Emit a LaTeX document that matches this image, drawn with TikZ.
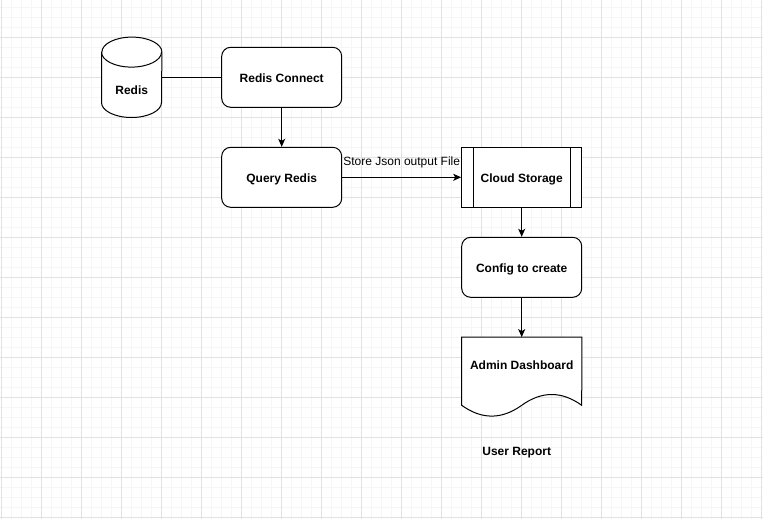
\documentclass[tikz,border=0pt]{standalone}
\usepackage{fontspec}
\setmainfont{Liberation Sans}
\usetikzlibrary{arrows.meta,calc}
\definecolor{gridminor}{HTML}{F6F6F6}
\definecolor{gridmajor}{HTML}{E2E2E2}
\tikzset{
  boxbase/.style={line width=1pt, minimum width=120pt, minimum height=60pt, inner sep=0pt,
    font=\bfseries\fontsize{12}{14}\selectfont, fill=white, text depth=0pt},
  rbox/.style={boxbase, draw, rounded corners=9pt},
  procbox/.style={boxbase, draw},
  ghost/.style={minimum width=60pt, minimum height=80pt, inner sep=0pt},
  docghost/.style={minimum width=120pt, minimum height=80pt, inner sep=0pt},
  shapeline/.style={line width=1pt, fill=white},
  lbl/.style={font=\bfseries\fontsize{12}{14}\selectfont, inner sep=0pt},
  elbl/.style={font=\fontsize{12}{14}\selectfont, inner sep=0pt},
  conn/.style={line width=1pt},
  arr/.style={line width=1pt, -{Stealth[length=8pt,width=7pt,inset=2pt]}},
}
\begin{document}
\begin{tikzpicture}[x=1pt,y=-1pt]
\useasboundingbox (0,0) rectangle (763,519);
\fill[white] (0,0) rectangle (763,519);
% grid
\foreach \k in {0,...,76} \draw[gridminor, line width=1pt] (1.7+10*\k,0) -- (1.7+10*\k,519);
\foreach \k in {0,...,51} \draw[gridminor, line width=1pt] (0,7.3+10*\k) -- (763,7.3+10*\k);
\foreach \k in {0,...,19} \draw[gridmajor, line width=1pt] (1.7+40*\k,0) -- (1.7+40*\k,519);
\foreach \k in {0,...,12} \draw[gridmajor, line width=1pt] (0,37.3+40*\k) -- (763,37.3+40*\k);

% Redis cylinder
\node[ghost] (redis) at (131.7,77.3) {};
\draw[shapeline] ([yshift=-15pt]redis.north west) -- ([yshift=15pt]redis.south west)
  arc[start angle=180, end angle=360, x radius=30pt, y radius=15pt]
  -- ([yshift=-15pt]redis.north east)
  arc[start angle=0, end angle=180, x radius=30pt, y radius=15pt] -- cycle;
\draw[line width=1pt] ([yshift=-15pt]redis.north west)
  arc[start angle=180, end angle=360, x radius=30pt, y radius=15pt];
\node[lbl] (redist) at ([yshift=-13pt]redis.center) {Redis};

% boxes
\node[rbox] (rc) at (281.7,77.3) {\raisebox{-1pt}{Redis Connect}};
\node[rbox] (qr) at (281.7,177.3) {\raisebox{-1pt}{Query Redis}};
\node[procbox] (cs) at (521.7,177.3) {\raisebox{-1pt}{Cloud Storage}};
\draw[line width=1pt] ([xshift=12pt]cs.north west) -- ([xshift=12pt]cs.south west);
\draw[line width=1pt] ([xshift=-12pt]cs.north east) -- ([xshift=-12pt]cs.south east);
\node[rbox] (cfg) at (521.7,267.3) {\raisebox{-1pt}{Config to create}};

% document shape
\node[docghost] (adm) at (521.7,377.3) {};
\draw[shapeline] (adm.north west) -- (adm.north east) -- (581.7,405.3)
  .. controls (561.7,390.9) and (541.7,390.9) .. (521.7,405.3)
  .. controls (501.7,419.7) and (481.7,419.7) .. (461.7,405.3) -- cycle;
\node[lbl] (admt) at ([yshift=12.3pt]adm.center) {Admin Dashboard};
\node[lbl] (ur) at (516.7,452.3) {User Report};

% connectors
\draw[conn] (redis.east) -- (rc.west);
\draw[arr] (rc.south) -- (qr.north);
\draw[arr] (qr.east) -- (cs.west) node[elbl, midway, yshift=15pt] {Store Json output File};
\draw[arr] (cs.south) -- (cfg.north);
\draw[arr] (cfg.south) -- (adm.north);
\end{tikzpicture}
\end{document}
